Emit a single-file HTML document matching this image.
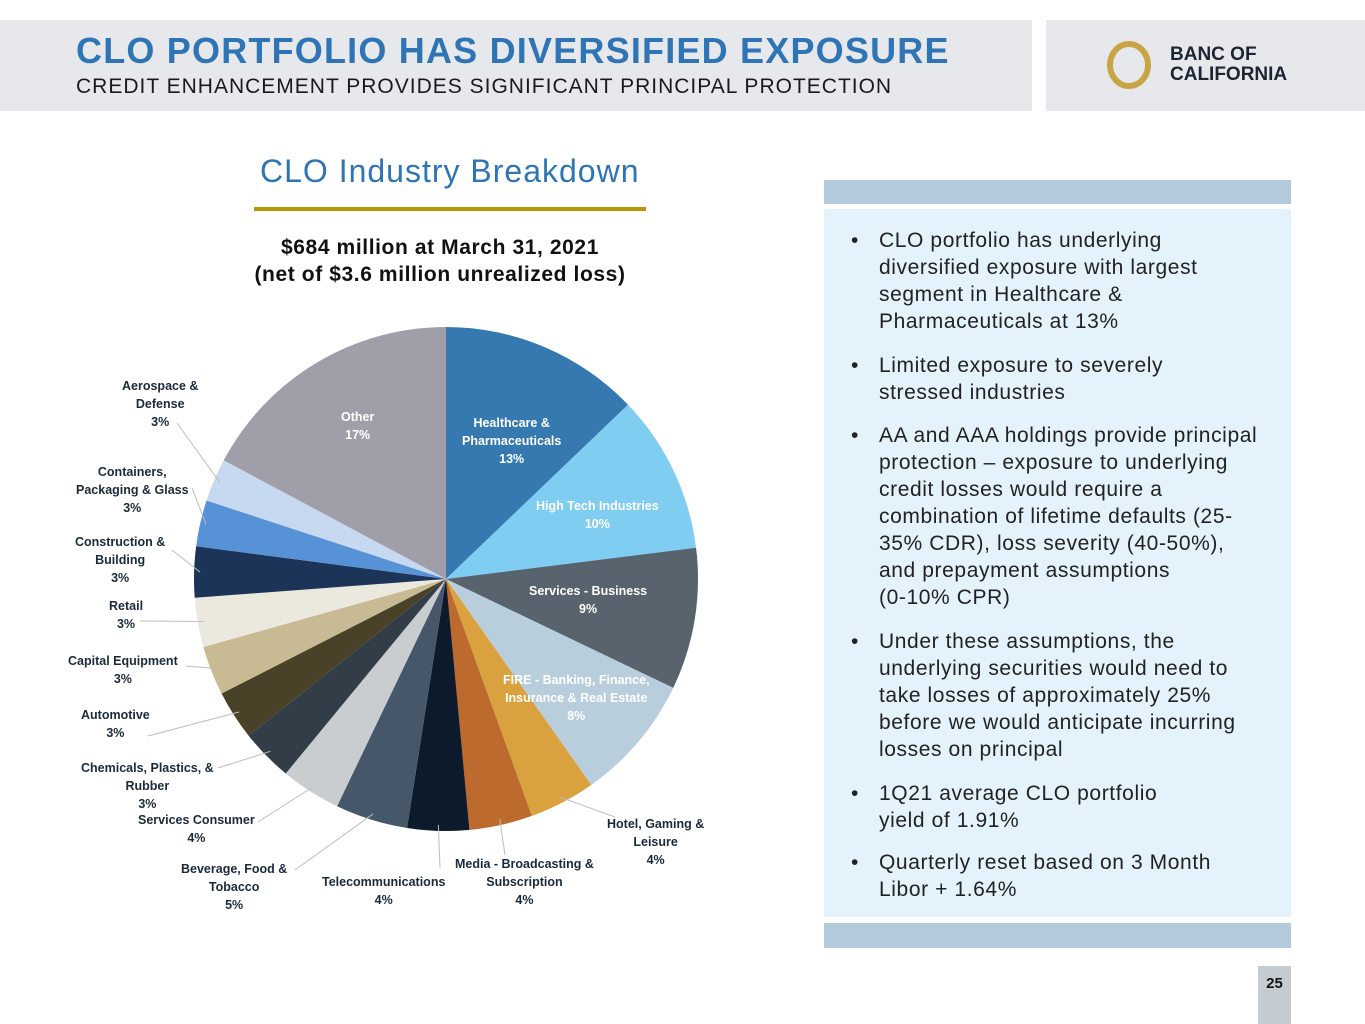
<!DOCTYPE html>
<html><head><meta charset="utf-8">
<style>
body{margin:0;width:1365px;height:1024px;background:#fff;position:relative;overflow:hidden;font-family:"Liberation Sans",sans-serif}
.abs{position:absolute}
.lbl{position:absolute;font-family:"Liberation Sans",sans-serif;font-weight:bold;font-size:12.5px;color:#1b2a3a;text-align:center;line-height:18px;white-space:nowrap}
.bul{position:absolute;left:879px;font-size:21px;color:#222;line-height:27px;white-space:nowrap;letter-spacing:0.6px}
.bul:before{content:"•";position:absolute;left:-28px}
</style></head><body>
<div class="abs" style="left:0;top:20px;width:1032px;height:91px;background:#e6e8eb"></div>
<div class="abs" style="left:1046px;top:20px;width:319px;height:91px;background:#e6e8eb"></div>
<div class="abs" style="left:76px;top:30px;font-size:36px;font-weight:bold;color:#2f75b5;letter-spacing:1.2px">CLO PORTFOLIO HAS DIVERSIFIED EXPOSURE</div>
<div class="abs" style="left:76px;top:75px;font-size:21px;color:#1a1a1a;letter-spacing:1px">CREDIT ENHANCEMENT PROVIDES SIGNIFICANT PRINCIPAL PROTECTION</div>
<svg class="abs" style="left:1104px;top:38px" width="50" height="54"><ellipse cx="25" cy="27" rx="19" ry="21" fill="none" stroke="#c9a445" stroke-width="6"/></svg>
<div class="abs" style="left:1170px;top:45px;font-size:19px;font-weight:bold;color:#1c2533;line-height:20px">BANC OF<br>CALIFORNIA</div>

<div class="abs" style="left:260px;top:153px;font-size:32px;color:#2f75b5;letter-spacing:1px">CLO Industry Breakdown</div>
<div class="abs" style="left:254px;top:207px;width:392px;height:4px;background:#b8960c"></div>
<div class="abs" style="left:230px;top:234px;width:420px;text-align:center;font-size:21px;font-weight:bold;color:#111;line-height:27px;letter-spacing:0.6px">$684 million at March 31, 2021<br>(net of $3.6 million unrealized loss)</div>

<svg id="pie" class="abs" style="left:0;top:0" width="1365" height="1024"></svg>

<div class="lbl" style="left:122px;top:377px">Aerospace &amp;<br>Defense<br>3%</div>
<div class="lbl" style="left:76px;top:463px">Containers,<br>Packaging &amp; Glass<br>3%</div>
<div class="lbl" style="left:75px;top:533px">Construction &amp;<br>Building<br>3%</div>
<div class="lbl" style="left:109px;top:597px">Retail<br>3%</div>
<div class="lbl" style="left:68px;top:652px">Capital Equipment<br>3%</div>
<div class="lbl" style="left:81px;top:706px">Automotive<br>3%</div>
<div class="lbl" style="left:81px;top:759px">Chemicals, Plastics, &amp;<br>Rubber<br>3%</div>
<div class="lbl" style="left:138px;top:811px">Services Consumer<br>4%</div>
<div class="lbl" style="left:181px;top:860px">Beverage, Food &amp;<br>Tobacco<br>5%</div>
<div class="lbl" style="left:322px;top:873px">Telecommunications<br>4%</div>
<div class="lbl" style="left:455px;top:855px">Media - Broadcasting &amp;<br>Subscription<br>4%</div>
<div class="lbl" style="left:607px;top:815px">Hotel, Gaming &amp;<br>Leisure<br>4%</div>
<div class="lbl" style="left:341px;top:408px;color:#fff">Other<br>17%</div>
<div class="lbl" style="left:462px;top:414px;color:#fff">Healthcare &amp;<br>Pharmaceuticals<br>13%</div>
<div class="lbl" style="left:536px;top:497px;color:#fff">High Tech Industries<br>10%</div>
<div class="lbl" style="left:529px;top:582px;color:#fff">Services - Business<br>9%</div>
<div class="lbl" style="left:503px;top:671px;color:#fff">FIRE - Banking, Finance,<br>Insurance &amp; Real Estate<br>8%</div>

<div class="abs" style="left:824px;top:180px;width:467px;height:24px;background:#b3c9dc"></div>
<div class="abs" style="left:824px;top:209px;width:467px;height:708px;background:#e3f2fb"></div>
<div class="abs" style="left:824px;top:923px;width:467px;height:25px;background:#b3c9dc"></div>
<div class="bul" style="top:227px">CLO portfolio has underlying<br>diversified exposure with largest<br>segment in Healthcare &amp;<br>Pharmaceuticals at 13%</div>
<div class="bul" style="top:352px">Limited exposure to severely<br>stressed industries</div>
<div class="bul" style="top:422px">AA and AAA holdings provide principal<br>protection – exposure to underlying<br>credit losses would require a<br>combination of lifetime defaults (25-<br>35% CDR), loss severity (40-50%),<br>and prepayment assumptions<br>(0-10% CPR)</div>
<div class="bul" style="top:628px">Under these assumptions, the<br>underlying securities would need to<br>take losses of approximately 25%<br>before we would anticipate incurring<br>losses on principal</div>
<div class="bul" style="top:780px">1Q21 average CLO portfolio<br>yield of 1.91%</div>
<div class="bul" style="top:849px">Quarterly reset based on 3 Month<br>Libor + 1.64%</div>
<div class="abs" style="left:1258px;top:966px;width:33px;height:58px;background:#c5ccd1;font-weight:bold;font-size:15px;color:#111;text-align:center;line-height:36px">25</div>

<script>
const categories=["Healthcare & Pharmaceuticals","High Tech Industries","Services - Business","FIRE","Hotel, Gaming & Leisure","Media - Broadcasting & Subscription","Telecommunications","Beverage, Food & Tobacco","Services Consumer","Chemicals, Plastics, & Rubber","Automotive","Capital Equipment","Retail","Construction & Building","Containers, Packaging & Glass","Aerospace & Defense","Other"];
const values=[13,10.3,9.2,8.2,4.3,4.1,4.0,4.7,3.9,3.4,3.2,3.2,3.2,3.3,3.0,2.8,17.4];
const colors=["#3679b1","#7fcdf0","#58636d","#b8cedc","#d9a23f","#bd6a2f","#0c1a2b","#46576a","#c9cdd0","#333d47","#4a4129","#c8bb93","#ebe9de","#1b3457","#5791d6","#c6d9f1","#a09ea9"];
const leaderEnds=[null,null,null,null,[615,817],[505,855],[440,868],[295,870],[258,822],[218,768],[148,736],[186,666],[140,621],[172,550],[192,488],[177,423],[null]];
const svg=document.getElementById('pie');
const cx=446,cy=579,r=252;
const total=values.reduce((a,b)=>a+b,0);
function pt(frac,rr){const a=frac*2*Math.PI;return [cx+rr*Math.sin(a),cy-rr*Math.cos(a)];}
let cum=0;
values.forEach((v,i)=>{
  const f0=cum/total,f1=(cum+v)/total;cum+=v;
  const p0=pt(f0,r),p1=pt(f1,r);
  const large=(f1-f0)>0.5?1:0;
  const p=document.createElementNS('http://www.w3.org/2000/svg','path');
  p.setAttribute('d',`M${cx},${cy} L${p0[0]},${p0[1]} A${r},${r} 0 ${large} 1 ${p1[0]},${p1[1]} Z`);
  p.setAttribute('fill',colors[i]);
  
  
  svg.appendChild(p);
  const le=leaderEnds[i];
  if(le&&le[0]!=null){
    const m=pt((f0+f1)/2,r-6);
    const l=document.createElementNS('http://www.w3.org/2000/svg','line');
    l.setAttribute('x1',m[0]);l.setAttribute('y1',m[1]);l.setAttribute('x2',le[0]);l.setAttribute('y2',le[1]);
    l.setAttribute('stroke','#bdbdbd');l.setAttribute('stroke-width','1');
    
    
    svg.appendChild(l);
  }
});
</script>
</body></html>
